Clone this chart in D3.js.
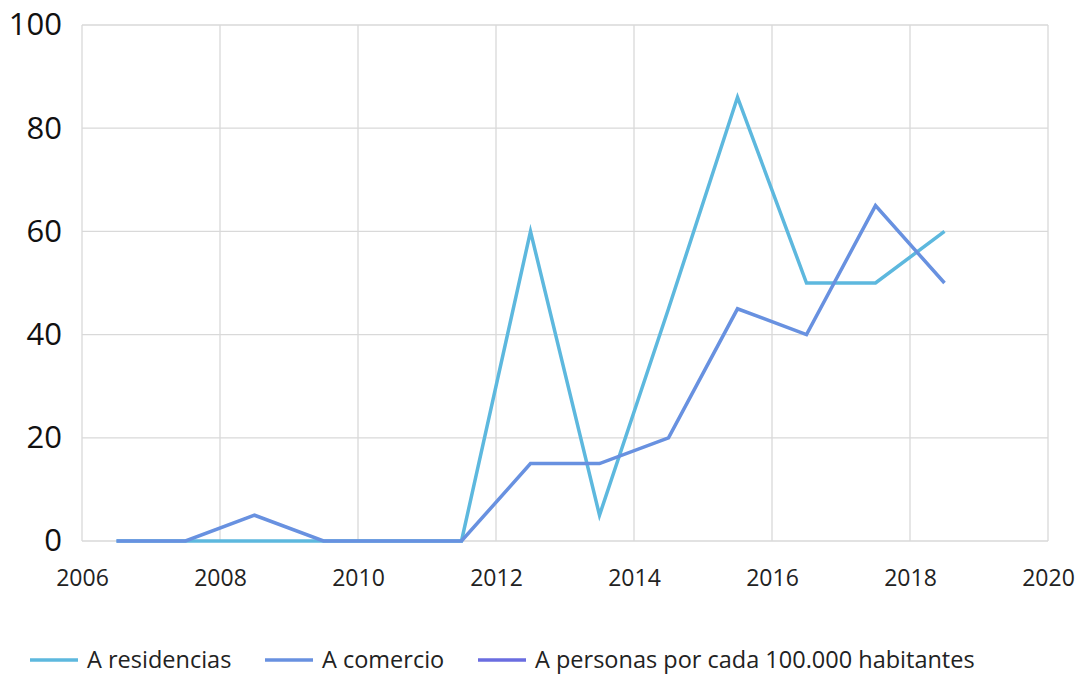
<!DOCTYPE html>
<html>
<head>
<meta charset="utf-8">
<script src="https://cdn.jsdelivr.net/npm/d3@7"></script>
<style>
  body { margin: 0; background: #fff; font-family: "Open Sans", "Noto Sans", sans-serif; }
</style>
</head>
<body>
<script>
// data
var years = [2006.5, 2007.5, 2008.5, 2009.5, 2010.5, 2011.5, 2012.5, 2013.5, 2014.5, 2015.5, 2016.5, 2017.5, 2018.5];
var residencias = [0, 0, 0, 0, 0, 0, 60, 5, 45, 86, 50, 50, 60];
var comercio = [0, 0, 5, 0, 0, 0, 15, 15, 20, 45, 40, 65, 50];
var personas = [];   // no points drawn for this one
var seriesNames = ["A residencias", "A comercio", "A personas por cada 100.000 habitantes"];
var seriesColors = ["#5db8de", "#6891e0", "#6a6de0"];
var xTicks = [2006, 2008, 2010, 2012, 2014, 2016, 2018, 2020];
var yTicks = [0, 20, 40, 60, 80, 100];

var fullwidth = 1081, fullheight = 675;
var margin = {top: 25, left: 82, right: 33, bottom: 134};
var width = fullwidth - margin.left - margin.right;
var height = fullheight - margin.top - margin.bottom;

var svg = d3.select("body")
  .append("svg")
   .attr("width", fullwidth)
   .attr("height", fullheight);

var g = svg.append("g")
   .attr("transform", "translate(" + margin.left + "," + margin.top + ")");

var xscale = d3.scaleLinear().domain([2006, 2020]).range([0, width]);
var yscale = d3.scaleLinear().domain([0, 100]).range([height, 0]);

// gridlines
g.selectAll(".vgrid")
  .data(xTicks)
  .enter().append("line")
  .attr("x1", function(d) { return xscale(d); })
  .attr("x2", function(d) { return xscale(d); })
  .attr("y1", 0)
  .attr("y2", height)
  .style("stroke", "#d9d9d9")
  .style("stroke-width", 1.3);

g.selectAll(".hgrid")
  .data(yTicks)
  .enter().append("line")
  .attr("x1", 0)
  .attr("x2", width)
  .attr("y1", function(d) { return yscale(d); })
  .attr("y2", function(d) { return yscale(d); })
  .style("stroke", "#d9d9d9")
  .style("stroke-width", 1.3);

// y axis labels
var yAxis = g.append("g")
  .call(d3.axisLeft(yscale).tickValues(yTicks).tickSize(0).tickPadding(20));
yAxis.select(".domain").remove();
yAxis.selectAll("text")
  .style("font-family", "'Open Sans', 'Noto Sans', sans-serif")
  .style("font-size", "31px")
  .style("fill", "#111");

// x axis labels
var xAxis = g.append("g")
  .attr("transform", "translate(0," + height + ")")
  .call(d3.axisBottom(xscale).tickValues(xTicks).tickFormat(d3.format("d")).tickSize(0).tickPadding(29));
xAxis.select(".domain").remove();
xAxis.selectAll("text")
  .style("font-family", "'Open Sans', 'Noto Sans', sans-serif")
  .style("font-size", "23px")
  .style("fill", "#222");

// lines
var line = d3.line()
  .x(function(d) { return xscale(d[0]); })
  .y(function(d) { return yscale(d[1]); });

var allSeries = [residencias, comercio, personas];
allSeries.forEach(function(vals, i) {
  if (vals.length == 0) return;
  var pts = vals.map(function(v, j) { return [years[j], v]; });
  g.append("path")
    .datum(pts)
    .attr("d", line)
    .style("fill", "none")
    .style("stroke", seriesColors[i])
    .style("stroke-width", 3.5)
    .style("stroke-linejoin", "miter")
    .style("stroke-miterlimit", 10);
});

// legend
var legendX = [30, 265, 478];
var legend = svg.selectAll(".legend")
  .data(seriesNames)
  .enter().append("g")
  .attr("class", "legend")
  .attr("transform", function(d, i) { return "translate(" + legendX[i] + ",660)"; });

legend.append("line")
  .attr("x1", 0)
  .attr("x2", 48)
  .style("stroke", function(d, i) { return seriesColors[i]; })
  .style("stroke-width", 3.5);

legend.append("text")
  .attr("x", 57)
  .attr("dy", "0.35em")
  .style("font-size", "23.5px")
  .style("fill", "#222")
  .text(function(d) { return d; });
</script>
</body>
</html>
